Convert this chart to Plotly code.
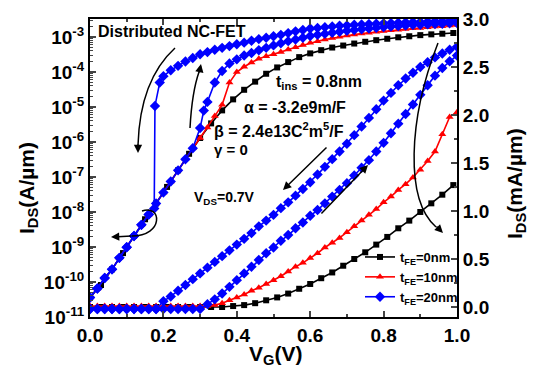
import plotly.graph_objects as go

# ---------------- data ----------------
VG_BLK = [0.00, 0.03, 0.06, 0.09, 0.12, 0.15, 0.18, 0.21, 0.24, 0.27, 0.30, 0.33, 0.36, 0.39, 0.42, 0.45, 0.48,
          0.51, 0.54, 0.57, 0.60, 0.63, 0.66, 0.69, 0.72, 0.75, 0.78, 0.81, 0.84, 0.87, 0.90, 0.93, 0.96, 0.99]
IDS_BLK_LOG = [3.6e-11, 8.2e-11, 2.3e-10, 6.7e-10, 2.06e-9, 6.2e-9, 1.76e-8, 5.2e-8, 1.55e-7, 4.6e-7, 1.3e-6,
               3.4e-6, 8.0e-6, 1.65e-5, 3.1e-5, 5.3e-5, 8.9e-5, 1.35e-4, 1.92e-4, 2.66e-4, 3.4e-4, 4.2e-4,
               5.0e-4, 5.7e-4, 6.5e-4, 7.3e-4, 8.1e-4, 8.9e-4, 9.8e-4, 1.05e-3, 1.13e-3, 1.19e-3, 1.24e-3, 1.3e-3]
IDS_BLK_LIN = [0.0, 0.0, 0.0, 0.0, 0.0, 0.0, 0.0, 0.0, 0.0, 0.0, 0.0, 0.0, 0.0, 0.01, 0.02, 0.04, 0.07, 0.10,
               0.14, 0.19, 0.24, 0.30, 0.36, 0.43, 0.50, 0.57, 0.65, 0.73, 0.82, 0.90, 0.99, 1.08, 1.17, 1.27]

VG_RED = [0.00, 0.02, 0.04, 0.06, 0.08, 0.10, 0.12, 0.14, 0.16, 0.18, 0.20, 0.22, 0.24, 0.26, 0.28, 0.30, 0.32,
          0.34, 0.36, 0.38, 0.40, 0.42, 0.44, 0.46, 0.48, 0.50, 0.52, 0.54, 0.56, 0.58, 0.60, 0.62, 0.64, 0.66,
          0.68, 0.70, 0.72, 0.74, 0.76, 0.78, 0.80, 0.82, 0.84, 0.86, 0.88, 0.90, 0.92, 0.94, 0.96, 0.98, 1.00]
IDS_RED_LOG = [3.6e-11, 6.5e-11, 1.3e-10, 2.3e-10, 4.9e-10, 9.8e-10, 2.06e-9, 4.3e-9, 8.5e-9, 1.76e-8, 3.6e-8,
               7.4e-8, 1.55e-7, 3.2e-7, 6.6e-7, 1.3e-6, 2.6e-6, 5.5e-6, 1.15e-5, 5.0e-5, 1.0e-4, 1.41e-4,
               1.86e-4, 2.4e-4, 2.8e-4, 3.2e-4, 3.7e-4, 4.4e-4, 5.1e-4, 5.9e-4, 6.8e-4, 7.6e-4, 8.5e-4, 9.3e-4,
               1.02e-3, 1.10e-3, 1.17e-3, 1.26e-3, 1.32e-3, 1.41e-3, 1.48e-3, 1.55e-3, 1.62e-3, 1.70e-3,
               1.78e-3, 1.82e-3, 1.91e-3, 2.00e-3, 2.04e-3, 2.14e-3, 2.19e-3]
IDS_RED_LIN = [0.01, 0.01, 0.01, 0.01, 0.01, 0.01, 0.01, 0.01, 0.01, 0.01, 0.01, 0.01, 0.01, 0.01, 0.01, 0.01,
               0.01, 0.02, 0.04, 0.07, 0.10, 0.13, 0.17, 0.20, 0.24, 0.28, 0.32, 0.37, 0.42, 0.46, 0.51, 0.56,
               0.62, 0.67, 0.72, 0.78, 0.84, 0.90, 0.96, 1.02, 1.09, 1.15, 1.22, 1.28, 1.35, 1.43, 1.52, 1.62,
               1.80, 1.98, 2.03]

# t_FE = 20 nm : forward sweep (log scale)
VG_BLU_FWD_LOG = [0.00, 0.02, 0.04, 0.06, 0.08, 0.10, 0.12, 0.14, 0.16, 0.18, 0.20, 0.22, 0.24, 0.26, 0.28,
                  0.30, 0.31, 0.32, 0.34, 0.36, 0.38, 0.40, 0.42, 0.44, 0.46, 0.48, 0.50, 0.52, 0.54, 0.56,
                  0.58, 0.60, 0.62, 0.64, 0.66, 0.68, 0.70, 0.72, 0.74, 0.76, 0.78, 0.80, 0.82, 0.84, 0.86,
                  0.88, 0.90, 0.92, 0.94, 0.96, 0.98, 1.00]
IDS_BLU_FWD_LOG = [3.6e-11, 6.5e-11, 1.3e-10, 2.3e-10, 4.9e-10, 9.8e-10, 2.06e-9, 4.3e-9, 8.5e-9, 1.76e-8,
                   3.6e-8, 7.4e-8, 1.55e-7, 3.2e-7, 6.6e-7, 2.5e-6, 7.9e-6, 1.4e-5, 5.0e-5, 1.07e-4, 1.74e-4,
                   2.3e-4, 2.95e-4, 3.5e-4, 4.2e-4, 4.9e-4, 5.75e-4, 6.6e-4, 7.6e-4, 8.5e-4, 9.5e-4, 1.07e-3,
                   1.15e-3, 1.23e-3, 1.32e-3, 1.41e-3, 1.51e-3, 1.58e-3, 1.66e-3, 1.74e-3, 1.82e-3, 1.91e-3,
                   2.00e-3, 2.04e-3, 2.14e-3, 2.19e-3, 2.24e-3, 2.29e-3, 2.34e-3, 2.40e-3, 2.45e-3, 2.51e-3]
# t_FE = 20 nm : reverse sweep (log scale)
VG_BLU_REV_LOG = [1.00, 0.98, 0.96, 0.94, 0.92, 0.90, 0.88, 0.86, 0.84, 0.82, 0.80, 0.78, 0.76, 0.74, 0.72,
                  0.70, 0.68, 0.66, 0.64, 0.62, 0.60, 0.58, 0.56, 0.54, 0.52, 0.50, 0.48, 0.46, 0.44, 0.42,
                  0.40, 0.38, 0.36, 0.34, 0.32, 0.30, 0.28, 0.26, 0.24, 0.22, 0.20, 0.19, 0.177, 0.175, 0.16,
                  0.14, 0.12, 0.10, 0.08, 0.06, 0.04, 0.02, 0.00]
IDS_BLU_REV_LOG = [2.95e-3, 2.88e-3, 2.82e-3, 2.82e-3, 2.75e-3, 2.69e-3, 2.69e-3, 2.63e-3, 2.57e-3, 2.51e-3,
                   2.45e-3, 2.40e-3, 2.34e-3, 2.29e-3, 2.24e-3, 2.14e-3, 2.09e-3, 2.00e-3, 1.91e-3, 1.82e-3,
                   1.74e-3, 1.58e-3, 1.45e-3, 1.29e-3, 1.15e-3, 1.05e-3, 9.5e-4, 8.7e-4, 7.8e-4, 6.9e-4,
                   6.2e-4, 5.5e-4, 4.9e-4, 4.3e-4, 3.7e-4, 3.2e-4, 2.5e-4, 2.0e-4, 1.5e-4, 1.12e-4, 7.6e-5,
                   5.0e-5, 1.07e-5, 1.26e-8, 8.5e-9, 4.3e-9, 2.06e-9, 9.8e-10, 4.9e-10, 2.3e-10, 1.3e-10,
                   6.5e-11, 3.6e-11]

VG_BLU = [0.00, 0.02, 0.04, 0.06, 0.08, 0.10, 0.12, 0.14, 0.16, 0.18, 0.20, 0.22, 0.24, 0.26, 0.28, 0.30, 0.32,
          0.34, 0.36, 0.38, 0.40, 0.42, 0.44, 0.46, 0.48, 0.50, 0.52, 0.54, 0.56, 0.58, 0.60, 0.62, 0.64, 0.66,
          0.68, 0.70, 0.72, 0.74, 0.76, 0.78, 0.80, 0.82, 0.84, 0.86, 0.88, 0.90, 0.92, 0.94, 0.96, 0.98, 1.00]
IDS_BLU_FWD_LIN = [-0.02, -0.02, -0.02, -0.02, -0.02, -0.02, -0.02, -0.02, -0.02, -0.02, -0.02, -0.02, -0.02,
                   -0.02, -0.02, -0.02, 0.03, 0.08, 0.14, 0.21, 0.28, 0.35, 0.42, 0.49, 0.56, 0.62, 0.69, 0.75,
                   0.82, 0.88, 0.95, 1.01, 1.08, 1.15, 1.22, 1.29, 1.37, 1.45, 1.53, 1.62, 1.71, 1.81, 1.91,
                   2.01, 2.11, 2.21, 2.31, 2.41, 2.49, 2.56, 2.62]
IDS_BLU_REV_LIN = [-0.02, -0.02, -0.02, -0.02, -0.02, -0.02, -0.02, -0.02, -0.02, -0.02, 0.06, 0.11, 0.17,
                   0.23, 0.29, 0.35, 0.41, 0.47, 0.53, 0.59, 0.65, 0.71, 0.77, 0.84, 0.90, 0.96, 1.03, 1.09,
                   1.16, 1.23, 1.30, 1.38, 1.46, 1.54, 1.62, 1.70, 1.79, 1.88, 1.97, 2.06, 2.15, 2.23, 2.31,
                   2.38, 2.44, 2.50, 2.55, 2.60, 2.64, 2.68, 2.71]

LOG_TICKS = [1e-11, 1e-10, 1e-9, 1e-8, 1e-7, 1e-6, 1e-5, 1e-4, 1e-3]
LOG_TICKTEXT = ["10<sup>-11</sup>", "10<sup>-10</sup>", "10<sup>-9</sup>", "10<sup>-8</sup>", "10<sup>-7</sup>",
                "10<sup>-6</sup>", "10<sup>-5</sup>", "10<sup>-4</sup>", "10<sup>-3</sup>"]
LEGEND_NAMES = ["t<sub>FE</sub>=0nm", "t<sub>FE</sub>=10nm", "t<sub>FE</sub>=20nm"]

# ---------------- styling ----------------
FONT = "Liberation Sans, Arial, sans-serif"
BLACK, RED, BLUE = "#000000", "#ff0000", "#0000ff"
W, H = 539, 371
L, R, T, B = 90, 457, 19, 317  # plot-area pixel box


def px(xp):
    return (xp - L) / (R - L)


def py(yp):
    return (B - yp) / (B - T)


fig = go.Figure()


def add(x, y, color, symbol, size, axis, name=None, show=False):
    fig.add_trace(go.Scatter(
        x=x, y=y, mode="lines+markers", yaxis=axis, name=name, showlegend=show,
        line=dict(color=color, width=1.6),
        marker=dict(color=color, symbol=symbol, size=size, line=dict(width=0)),
    ))


add(VG_BLK, IDS_BLK_LOG, BLACK, "square", 6, "y", LEGEND_NAMES[0], True)
add(VG_RED, IDS_RED_LOG, RED, "triangle-up", 7, "y", LEGEND_NAMES[1], True)
add(VG_BLU_FWD_LOG, IDS_BLU_FWD_LOG, BLUE, "diamond", 8, "y", LEGEND_NAMES[2], True)
add(VG_BLU_REV_LOG, IDS_BLU_REV_LOG, BLUE, "diamond", 8, "y")
add(VG_BLK, IDS_BLK_LIN, BLACK, "square", 6, "y2")
add(VG_RED, IDS_RED_LIN, RED, "triangle-up", 7, "y2")
add(VG_BLU, IDS_BLU_FWD_LIN, BLUE, "diamond", 8, "y2")
add(VG_BLU, IDS_BLU_REV_LIN, BLUE, "diamond", 8, "y2")

tickfont = dict(family=FONT, size=19, color="black", weight="bold")

log_minor = [m * 10.0 ** e for e in range(-11, -2) for m in range(2, 10)]

fig.update_layout(
    width=W, height=H,
    margin=dict(l=L, r=W - R, t=T, b=H - B, autoexpand=False),
    paper_bgcolor="white", plot_bgcolor="white",
    font=dict(family=FONT, color="black"),
    xaxis=dict(range=[0, 1], dtick=0.2, tick0=0, tickformat=".1f", ticks="inside", ticklen=6, tickwidth=1.5,
               showline=True, linewidth=2, linecolor="black", mirror="ticks", showgrid=False, zeroline=False,
               automargin=False, tickfont=tickfont,
               minor=dict(dtick=0.1, ticks="inside", ticklen=3, tickwidth=1.5)),
    yaxis=dict(type="log", range=[-11, -2.486], tickmode="array", tickvals=LOG_TICKS, ticktext=LOG_TICKTEXT,
               ticks="inside", ticklen=6, tickwidth=1.5, showline=True, linewidth=2, linecolor="black",
               showgrid=False, zeroline=False, automargin=False, tickfont=tickfont,
               minor=dict(tickmode="array", tickvals=log_minor, ticks="inside", ticklen=3, tickwidth=1)),
    yaxis2=dict(overlaying="y", side="right", range=[-0.104, 3.0], dtick=0.5, tick0=0, tickformat=".1f",
                ticks="inside", ticklen=6, tickwidth=1.5, showline=True, linewidth=2, linecolor="black",
                showgrid=False, zeroline=False, automargin=False, tickfont=tickfont,
                minor=dict(dtick=0.25, ticks="inside", ticklen=3, tickwidth=1.5)),
    legend=dict(x=px(360), y=py(312), xanchor="left", yanchor="bottom", bgcolor="rgba(0,0,0,0)",
                font=dict(family=FONT, size=13, color="black", weight="bold"), itemwidth=30,
                tracegroupgap=0),
)

# ---------------- axis titles (as text) ----------------
def label(text, xp, yp, size=15, angle=0, xanchor="left"):
    fig.add_annotation(text=text, x=px(xp), y=py(yp), xref="paper", yref="paper", showarrow=False,
                       xanchor=xanchor, yanchor="middle", textangle=angle,
                       font=dict(family=FONT, size=size, color="black", weight="bold"))


label("I<sub>DS</sub>(A/µm)", 28, 188, 21, -90, "center")
label("I<sub>DS</sub>(mA/µm)", 516, 184, 21, -90, "center")
label("V<sub>G</sub>(V)", 275, 355, 21, 0, "center")

# ---------------- text labels ----------------
label("Distributed NC-FET", 96, 31, 16)
label("t<sub>ins</sub> = 0.8nm", 274, 82, 16)
label("α = -3.2e9m/F", 242, 107, 16)
label("β = 2.4e13C<sup>2</sup>m<sup>5</sup>/F", 212, 130, 16)
label("γ = 0", 212, 149, 15)
label("V<sub>DS</sub>=0.7V", 192, 198, 14)

# ---------------- arrows ----------------
def path(d_pts):
    s = ""
    for cmd, pts in d_pts:
        s += cmd + " " + " ".join(f"{px(a):.4f},{py(b):.4f}" for a, b in pts) + " "
    fig.add_shape(type="path", path=s.strip(), xref="paper", yref="paper",
                  line=dict(color="black", width=1.5))


def head(xh, yh, xt, yt):
    fig.add_annotation(x=px(xh), y=py(yh), xref="paper", yref="paper", ax=xt - xh, ay=yt - yh,
                       text="", showarrow=True, arrowhead=2, arrowsize=1.1, arrowwidth=1.5,
                       arrowcolor="black", standoff=0)


# arrow 1 : reverse sweep (curved, downwards)
path([("M", [(175, 48)]), ("Q", [(140, 80), (138, 145)])])
head(138, 153, 138, 143)
# arrow 2 : forward sweep (curved, upwards)
path([("M", [(190, 128)]), ("Q", [(192, 92), (199, 72)])])
head(201, 64, 199, 74)
# arrow 3 : loop pointing to left axis
path([("M", [(142, 211)]), ("C", [(162, 204), (164, 236), (132, 236)])])
head(111, 237, 133, 236)
# arrow 4, 5 : straight arrows on linear curves
head(283, 190, 328, 146)
head(368, 165, 320, 215)
# arrow 6 : large curved arrow on right
path([("M", [(438, 43)]), ("C", [(408, 120), (405, 200), (436, 227)])])
head(443, 233, 435, 225)

fig.write_html("out.html", config={"displayModeBar": False},
               post_script="document.body.style.margin='0';document.body.style.padding='0';")
